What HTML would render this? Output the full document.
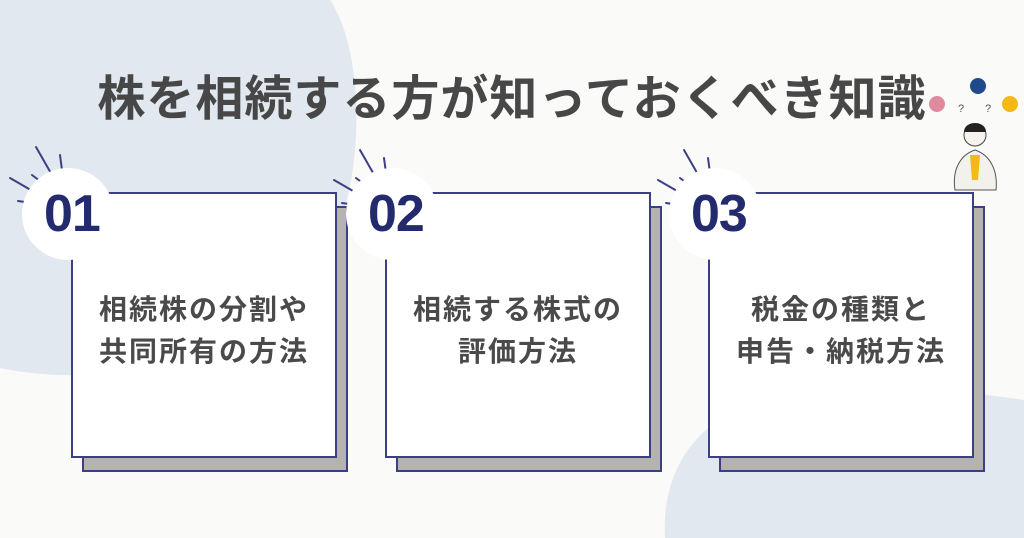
<!DOCTYPE html>
<html><head><meta charset="utf-8"><style>
body{margin:0;width:1024px;height:538px;overflow:hidden;background:#fafaf8;position:relative;font-family:"Liberation Sans","Noto Sans CJK JP",sans-serif}
.abs{position:absolute}
.sh{position:absolute;background:#b5b3b0;border:2px solid #3a3f86;box-sizing:border-box}
.card{position:absolute;background:#fff;border:2px solid #3a3f86;box-sizing:border-box;display:flex;align-items:center;justify-content:center;text-align:center;font-weight:bold;font-size:28px;letter-spacing:2px;line-height:42px;color:#4a4a4a;padding-top:12px}
.circ{position:absolute;width:92px;height:92px;border-radius:50%;background:#fff}
.num{position:absolute;font-size:52px;font-weight:bold;color:#232a6e;letter-spacing:-1px}
h1{position:absolute;left:0;width:1024px;top:70px;margin:0;text-align:center;font-size:48px;font-weight:bold;color:#474747;letter-spacing:1px;line-height:60px}
</style></head><body>
<svg class="abs" style="left:0;top:0" width="1024" height="538">
<path d="M0,0 L330,0 C370,60 360,200 330,240 C300,300 200,380 60,375 C30,374 10,370 0,368 Z" fill="#e2e8f0"/>
<path d="M665,538 C660,450 720,400 800,392 C880,385 960,390 1024,400 L1024,538 Z" fill="#e2e8f0"/>
<g stroke="#3a3f86" stroke-width="2" stroke-linecap="round">
<line x1="36" y1="147" x2="52" y2="175"/><line x1="60" y1="155" x2="62" y2="170"/><line x1="32" y1="175" x2="44" y2="184"/><line x1="10" y1="178" x2="36" y2="193"/><line x1="18" y1="201" x2="32" y2="203"/>
<line x1="360" y1="150" x2="376" y2="178"/><line x1="384" y1="158" x2="386" y2="173"/><line x1="356" y1="178" x2="368" y2="187"/><line x1="334" y1="180" x2="360" y2="195"/><line x1="342" y1="203" x2="356" y2="205"/>
<line x1="684" y1="150" x2="700" y2="178"/><line x1="708" y1="158" x2="710" y2="173"/><line x1="680" y1="178" x2="692" y2="187"/><line x1="658" y1="180" x2="684" y2="195"/><line x1="666" y1="203" x2="680" y2="205"/>
</g>
<circle cx="937" cy="104" r="8" fill="#e08aa0"/><circle cx="978" cy="86" r="8" fill="#1f4a8c"/><circle cx="1010" cy="104" r="8" fill="#f4b915"/>
<text x="958" y="112" font-size="11" fill="#555">?</text><text x="985" y="112" font-size="11" fill="#555">?</text>
<path d="M955,190 C952,170 960,155 975,150 C990,155 998,170 996,190 Z" fill="#f2f1ec" stroke="#555"/>
<circle cx="975" cy="135" r="11" fill="#f6f3ee" stroke="#444"/>
<path d="M964,132 C964,120 986,120 986,132 Z" fill="#222"/>
<path d="M970,155 L980,155 L978,180 L972,180 Z" fill="#f4b915"/>
</svg>
<h1>株を相続する方が知っておくべき知識</h1>

<div class="sh" style="left:82px;top:206px;width:266px;height:266px"></div>
<div class="card" style="left:71px;top:192px;width:266px;height:266px">相続株の分割や<br>共同所有の方法</div>
<div class="circ" style="left:22px;top:168px"></div>
<div class="num" style="left:44px;top:184px">01</div>

<div class="sh" style="left:396px;top:206px;width:266px;height:266px"></div>
<div class="card" style="left:385px;top:192px;width:266px;height:266px">相続する株式の<br>評価方法</div>
<div class="circ" style="left:346px;top:168px"></div>
<div class="num" style="left:368px;top:184px">02</div>

<div class="sh" style="left:719px;top:206px;width:266px;height:266px"></div>
<div class="card" style="left:708px;top:192px;width:266px;height:266px">税金の種類と<br>申告・納税方法</div>
<div class="circ" style="left:669px;top:168px"></div>
<div class="num" style="left:691px;top:184px">03</div>
</body></html>
